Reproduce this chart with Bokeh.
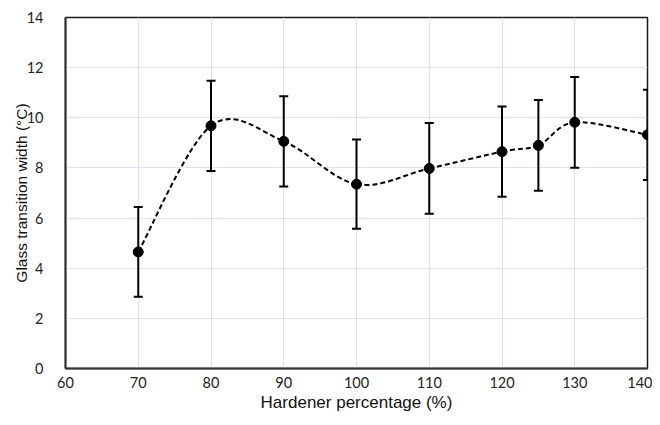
from bokeh.plotting import figure
from bokeh.models import Range1d, FixedTicker, Whisker, ColumnDataSource
from bokeh.embed import file_html
from bokeh.resources import INLINE

hardener = [70, 80, 90, 100, 110, 120, 125, 130, 140]
width = [4.65, 9.68, 9.06, 7.35, 7.98, 8.65, 8.9, 9.82, 9.32]
err = [1.79, 1.80, 1.80, 1.78, 1.81, 1.80, 1.81, 1.81, 1.80]
x_ticks = [60, 70, 80, 90, 100, 110, 120, 130, 140]
y_ticks = [0, 2, 4, 6, 8, 10, 12, 14]

ml = 9
p = figure(width=652 - ml, height=414, output_backend="svg", toolbar_location=None,
           x_range=Range1d(60, 140), y_range=Range1d(0, 14),
           margin=(0, 0, 0, ml),
           min_border_left=5, min_border_right=5, min_border_top=17, min_border_bottom=10)

p.background_fill_color = "white"
p.outline_line_color = "#1a1a1a"
p.outline_line_width = 1.5

grid_col = "#dde3ee"
p.xgrid.grid_line_color = grid_col
p.ygrid.grid_line_color = grid_col
p.xgrid.grid_line_width = 1.2
p.ygrid.grid_line_width = 1.2

p.xaxis.ticker = FixedTicker(ticks=x_ticks)
p.yaxis.ticker = FixedTicker(ticks=y_ticks)
for ax in (p.xaxis[0], p.yaxis[0]):
    ax.axis_line_color = "#333333"
    ax.axis_line_width = 2
    ax.major_tick_line_color = None
    ax.minor_tick_line_color = None
    ax.major_label_text_font = "Lato"
    ax.major_label_text_font_size = "14.5px"
    ax.major_label_text_color = "#222222"
    ax.axis_label_text_font = "Liberation Sans"
    ax.axis_label_text_font_style = "normal"
    ax.axis_label_text_color = "#111111"

p.xaxis.axis_label_text_font_size = "17px"
p.yaxis.axis_label_text_font_size = "15.5px"
p.xaxis.axis_label = "Hardener percentage (%)"
p.yaxis.axis_label = "Glass transition width (°C)"
p.xaxis.major_label_standoff = 2
p.yaxis.major_label_standoff = 16
p.xaxis.axis_label_standoff = 2
p.yaxis.axis_label_standoff = -6

# smoothed (Catmull-Rom style) dashed curve, control points computed from the data
n = len(hardener)
x0, y0, x1, y1, cx0, cy0, cx1, cy1 = [], [], [], [], [], [], [], []
for i in range(n - 1):
    im = max(i - 1, 0)
    ip2 = min(i + 2, n - 1)
    x0.append(hardener[i]); y0.append(width[i])
    x1.append(hardener[i + 1]); y1.append(width[i + 1])
    cx0.append(hardener[i] + (hardener[i + 1] - hardener[im]) / 6)
    cy0.append(width[i] + (width[i + 1] - width[im]) / 6)
    cx1.append(hardener[i + 1] - (hardener[ip2] - hardener[i]) / 6)
    cy1.append(width[i + 1] - (width[ip2] - width[i]) / 6)

p.bezier(x0=x0, y0=y0, x1=x1, y1=y1, cx0=cx0, cy0=cy0, cx1=cx1, cy1=cy1,
         line_color="black", line_width=2, line_dash="5 3")

src = ColumnDataSource(dict(x=hardener, y=width,
                            lower=[w - e for w, e in zip(width, err)],
                            upper=[w + e for w, e in zip(width, err)]))
wh = Whisker(source=src, base="x", lower="lower", upper="upper",
             line_color="black", line_width=2)
wh.upper_head.size = 9
wh.lower_head.size = 9
wh.upper_head.line_color = "black"
wh.lower_head.line_color = "black"
wh.upper_head.line_width = 2
wh.lower_head.line_width = 2
p.add_layout(wh)

p.scatter("x", "y", source=src, size=10, fill_color="black", line_color="black")

open("out.html", "w").write(file_html(p, INLINE))
